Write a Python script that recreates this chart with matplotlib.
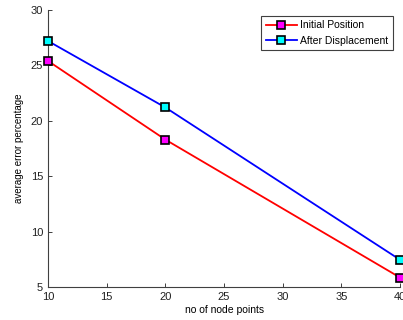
import matplotlib
matplotlib.use('Agg')
import matplotlib.pyplot as plt

nodes = [10, 20, 40]
initial = [25.4, 18.3, 5.85]
after = [27.2, 21.2, 7.45]

plt.rcParams['font.family'] = ['Liberation Sans', 'DejaVu Sans']

fig = plt.figure(figsize=(4.03, 3.2), dpi=100)
ax = fig.add_axes([0.119, 0.103, 0.874, 0.866])

ax.plot(nodes, initial, color='red', lw=1.3, marker='s', ms=6,
        mfc='magenta', mec='black', mew=1.2, label='Initial Position', clip_on=False, zorder=3)
ax.plot(nodes, after, color='blue', lw=1.3, marker='s', ms=6,
        mfc='cyan', mec='black', mew=1.2, label='After Displacement', clip_on=False, zorder=3)

ax.set_xlim(10, 40)
ax.set_ylim(5, 30)
ax.set_xticks([10, 15, 20, 25, 30, 35, 40])
ax.set_yticks([5, 10, 15, 20, 25, 30])
for s in ['top', 'right']:
    ax.spines[s].set_visible(False)
for s in ['left', 'bottom']:
    ax.spines[s].set_color('#404040')
    ax.spines[s].set_linewidth(0.8)
ax.tick_params(direction='in', length=3, labelsize=8, colors='#202020', width=0.6)
ax.set_xlabel('no of node points', fontsize=7.5, labelpad=2)
ax.set_ylabel('average error percentage', fontsize=7, labelpad=5)

leg = ax.legend(loc='upper right', bbox_to_anchor=(0.994, 0.998), fontsize=7.5,
                fancybox=False, framealpha=1, edgecolor='#404040',
                handlelength=3, borderpad=0.45, labelspacing=0.5, handletextpad=0.3)
leg.get_frame().set_linewidth(0.8)

plt.savefig('out.png', dpi=100)
